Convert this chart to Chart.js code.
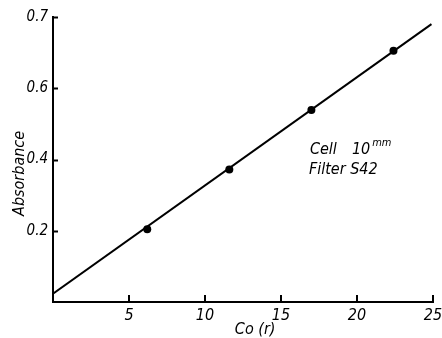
<!DOCTYPE html>
<html>
<head>
<meta charset="utf-8">
<script src="https://cdn.jsdelivr.net/npm/chart.js@4.4.1/dist/chart.umd.min.js"></script>
<style>
  html, body { margin: 0; padding: 0; background: #fff; }
  #wrap { width: 442px; height: 338px; position: relative; }
</style>
</head>
<body>
<div id="wrap"><canvas id="c" width="442" height="338"></canvas></div>
<script>
// ---- data ----
const concentration = [6.2, 11.6, 17.0, 22.4];
const absorbance = [0.204, 0.372, 0.539, 0.705];
const fitX = [0, 24.9];
const fitY = [0.023, 0.78];
const xTickValues = [5, 10, 15, 20, 25];
const xTickLabels = ['5', '10', '15', '20', '25'];
const yTickValues = [0.2, 0.4, 0.6, 0.8];
const yTickLabels = ['0.2', '0.4', '0.6', '0.7'];
const xTitle = 'Co (r)';
const yTitle = 'Absorbance';
const noteCell = 'Cell';
const noteCellValue = '10';
const noteCellUnit = 'mm';
const noteFilter = 'Filter S42';

const FONT = 'DejaVu Sans Condensed';

const points = concentration.map((x, i) => ({ x: x, y: absorbance[i] }));
const fit = fitX.map((x, i) => ({ x: x, y: fitY[i] }));

const overlay = {
  id: 'overlay',
  afterDraw(chart) {
    const ctx = chart.ctx;
    const xs = chart.scales.x, ys = chart.scales.y;
    const area = chart.chartArea;
    ctx.save();
    ctx.strokeStyle = '#000';
    ctx.lineWidth = 2;
    // inner tick marks
    yTickValues.forEach(v => {
      const py = Math.round(ys.getPixelForValue(v)) + 0.5;
      ctx.beginPath(); ctx.moveTo(area.left, py); ctx.lineTo(area.left + 5, py); ctx.stroke();
    });
    xTickValues.forEach(v => {
      const px = Math.round(xs.getPixelForValue(v));
      ctx.beginPath(); ctx.moveTo(px, area.bottom); ctx.lineTo(px, area.bottom - 7); ctx.stroke();
    });
    ctx.fillStyle = '#000';
    ctx.textBaseline = 'middle';
    // axis titles
    ctx.font = 'italic 16px "' + FONT + '"';
    ctx.textAlign = 'center';
    ctx.fillText(xTitle, xs.getPixelForValue(13.3), 330);
    ctx.save();
    ctx.translate(20, ys.getPixelForValue(0.361));
    ctx.rotate(-Math.PI / 2);
    ctx.fillText(yTitle, 0, 0);
    ctx.restore();
    // annotation
    ctx.textAlign = 'left';
    const ax = xs.getPixelForValue(16.9);
    const y1 = ys.getPixelForValue(0.428);
    const y2 = ys.getPixelForValue(0.372);
    ctx.fillText(noteCell, ax, y1);
    ctx.fillText(noteCellValue, ax + 42, y1);
    const w10 = ctx.measureText(noteCellValue).width;
    ctx.font = 'italic 11px "' + FONT + '"';
    ctx.fillText(noteCellUnit, ax + 44 + w10, y1 - 6);
    ctx.font = 'italic 16px "' + FONT + '"';
    ctx.fillText(noteFilter, ax - 1, y2);
    ctx.restore();
  }
};

new Chart(document.getElementById('c'), {
  type: 'scatter',
  data: {
    datasets: [
      {
        data: fit,
        showLine: true,
        borderColor: '#000',
        borderWidth: 2,
        pointRadius: 0,
        pointHoverRadius: 0,
        fill: false
      },
      {
        data: points,
        showLine: false,
        pointRadius: 4,
        pointBackgroundColor: '#000',
        pointBorderColor: '#000',
        pointBorderWidth: 0
      }
    ]
  },
  options: {
    responsive: false,
    animation: false,
    devicePixelRatio: 1,
    layout: { padding: { left: 0, right: 9, top: 17, bottom: 0 } },
    plugins: { legend: { display: false }, tooltip: { enabled: false } },
    scales: {
      x: {
        type: 'linear',
        min: 0, max: 25,
        afterBuildTicks(scale) { scale.ticks = xTickValues.map(v => ({ value: v })); },
        afterFit(scale) { scale.height = 36; scale.paddingLeft = 0; scale.paddingRight = 0; },
        grid: { display: false, drawTicks: false },
        border: { display: true, color: '#000', width: 2 },
        ticks: {
          color: '#000',
          padding: 4,
          maxRotation: 0,
          autoSkip: false,
          font: { family: FONT, size: 16, style: 'italic' },
          callback: (v) => { const i = xTickValues.indexOf(v); return i >= 0 ? xTickLabels[i] : ''; }
        }
      },
      y: {
        type: 'linear',
        min: 0, max: 0.8,
        afterBuildTicks(scale) { scale.ticks = yTickValues.map(v => ({ value: v })); },
        afterFit(scale) { scale.width = 53; scale.paddingTop = 0; scale.paddingBottom = 0; },
        grid: { display: false, drawTicks: false },
        border: { display: true, color: '#000', width: 2 },
        ticks: {
          color: '#000',
          padding: 5,
          autoSkip: false,
          font: { family: FONT, size: 15, style: 'italic' },
          callback: (v) => { const i = yTickValues.findIndex(t => Math.abs(t - v) < 1e-9); return i >= 0 ? yTickLabels[i] : ''; }
        }
      }
    }
  },
  plugins: [overlay]
});
</script>
</body>
</html>
